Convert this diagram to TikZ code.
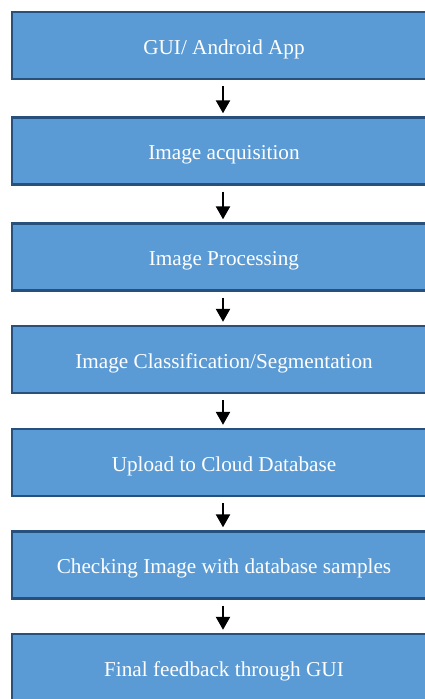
\documentclass[tikz,border=0pt]{standalone}
\usepackage{fontspec}
\setmainfont{Liberation Serif}
\usetikzlibrary{arrows.meta}
\definecolor{boxfill}{RGB}{91,155,213}
\definecolor{boxline}{RGB}{40,80,125}
\begin{document}
\begin{tikzpicture}[x=1pt,y=-1pt,
  stage/.style={draw=boxline,line width=2.4pt,fill=boxfill,
    minimum width=424pt,minimum height=67pt,inner sep=0pt,
    text height=17pt,text depth=0pt,
    text=white,font=\fontsize{21.2}{25}\selectfont},
  flow/.style={line width=2.4pt,-{Triangle[width=14pt,length=13pt]},
    shorten <=6pt,shorten >=3pt}]
\useasboundingbox (0,0) rectangle (425,699);
\clip (0,0) rectangle (425,699);
\node[stage] (s1) at (224,45.5) {GUI/ Android App};
\node[stage] (s2) at (224,151) {Image acquisition};
\node[stage] (s3) at (224,257) {Image Processing};
\node[stage] (s4) at (224,359.5) {Image Classification/Segmentation};
\node[stage] (s5) at (224,462.5) {Upload to Cloud Database};
\node[stage] (s6) at (224,565) {Checking Image with database samples};
\node[stage] (s7) at (224,667.5) {Final feedback through GUI};
\foreach \a/\b in {s1/s2,s2/s3,s3/s4,s4/s5,s5/s6,s6/s7}
  \draw[flow] ([xshift=-1pt]\a.south) -- ([xshift=-1pt]\b.north);
\end{tikzpicture}
\end{document}
